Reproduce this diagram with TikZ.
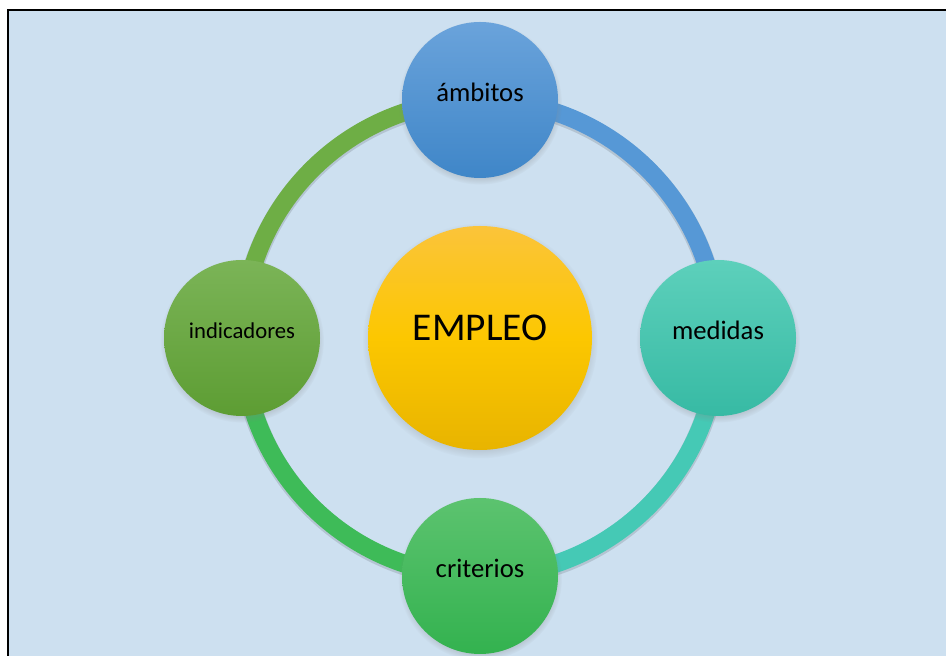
\documentclass[tikz,border=0pt]{standalone}
\usepackage{fontspec}
\setmainfont{Carlito}
\usetikzlibrary{shadows,backgrounds}

\begin{document}
\begin{tikzpicture}[x=0.75pt,y=0.75pt,
  bubble/.style={circle, inner sep=0pt, minimum size=117pt, text depth=11pt,
    font=\fontsize{20}{24}\selectfont,
    circular drop shadow={shadow xshift=0pt, shadow yshift=-2pt, shadow scale=1.05, opacity=.45}},
  ring/.style={line width=13.5pt,
    preaction={draw, black, opacity=.12, line width=15pt, transform canvas={yshift=-1.2pt}}}]
  \definecolor{backblue}{HTML}{CDE0F0}
  \definecolor{bluetop}{HTML}{6AA3DB}
  \definecolor{bluebot}{HTML}{3F86C8}
  \definecolor{leaftop}{HTML}{7BB457}
  \definecolor{leafbot}{HTML}{5D9D33}
  \definecolor{tealtop}{HTML}{5DD0BB}
  \definecolor{tealbot}{HTML}{37BAA4}
  \definecolor{grasstop}{HTML}{5CC36F}
  \definecolor{grassbot}{HTML}{33B24F}
  \definecolor{suntop}{HTML}{FBC43A}
  \definecolor{sunmid}{HTML}{FCC700}
  \definecolor{sunbot}{HTML}{E8B400}

  \useasboundingbox (0,0) rectangle (946,656);

  \node[bubble, minimum size=168pt, text depth=15pt, font=\fontsize{29.5}{34}\selectfont,
        top color=suntop, bottom color=sunbot, middle color=sunmid] (empleo) at (480,318) {EMPLEO};
  \node[bubble, top color=bluetop, bottom color=bluebot] (ambitos) at (480,556) {ámbitos};
  \node[bubble, top color=tealtop, bottom color=tealbot] (medidas) at (718,318) {medidas};
  \node[bubble, top color=grasstop, bottom color=grassbot] (criterios) at (480,80) {criterios};
  \node[bubble, top color=leaftop, bottom color=leafbot, font=\fontsize{17}{20}\selectfont] (indicadores) at (242,318) {indicadores};

  \begin{pgfonlayer}{background}
    \fill[backblue] (8,0) rectangle (946,646);
    \draw[line width=1.5pt] (8,0) -- (8,646) -- (946,646);
    % ring between the four bubbles
    \draw[ring, color={rgb,255:red,86;green,152;blue,214}] (ambitos.center) arc[start angle=90, end angle=0, radius=238];
    \draw[ring, color={rgb,255:red,69;green,201;blue,181}] (medidas.center) arc[start angle=0, end angle=-90, radius=238];
    \draw[ring, color={rgb,255:red,62;green,187;blue,88}] (criterios.center) arc[start angle=270, end angle=180, radius=238];
    \draw[ring, color={rgb,255:red,110;green,174;blue,69}] (indicadores.center) arc[start angle=180, end angle=90, radius=238];
  \end{pgfonlayer}
\end{tikzpicture}
\end{document}
